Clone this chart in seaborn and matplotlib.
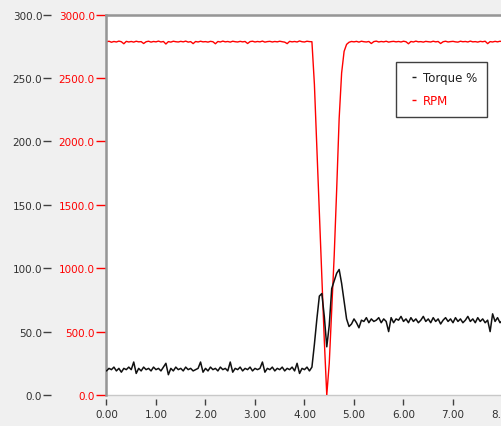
import matplotlib
matplotlib.use("Agg")
import matplotlib.pyplot as plt
from matplotlib.lines import Line2D
from matplotlib.ticker import FormatStrFormatter
import pandas as pd
import seaborn as sns

# ---- data (sampling grid every 0.05 s) ----
time = [round(0.05 * i, 2) for i in range(161)]

torque = [
    19, 21, 20, 22, 19, 21, 18, 21, 20, 22,
    20, 26, 17, 21, 19, 22, 20, 21, 19, 22,
    20, 21, 19, 22, 25, 16, 21, 19, 22, 20,
    21, 19, 22, 20, 21, 19, 20, 21, 26, 18,
    21, 19, 22, 20, 21, 19, 22, 20, 21, 19,
    26, 18, 21, 20, 22, 19, 21, 20, 22, 19,
    21, 20, 21, 26, 18, 21, 20, 22, 19, 21,
    20, 22, 19, 21, 20, 22, 19, 25, 17, 21,
    20, 22, 19, 22, 40, 60, 78, 80, 62, 38,
    55, 84, 90, 96, 99, 88, 74, 60, 54, 56,
    60, 57, 53, 59, 58, 61, 57, 60, 58, 59,
    61, 57, 60, 58, 50, 61, 57, 60, 59, 62,
    58, 60, 57, 61, 58, 60, 57, 59, 62, 58,
    60, 57, 61, 58, 60, 56, 59, 61, 58, 60,
    57, 61, 58, 60, 57, 59, 62, 58, 60, 57,
    61, 58, 60, 57, 59, 50, 64, 58, 61, 57,
    59,
]

rpm = [
    2785, 2790, 2782, 2788, 2784, 2791, 2786, 2770, 2789, 2784,
    2788, 2783, 2790, 2785, 2787, 2772, 2786, 2790, 2783, 2788,
    2785, 2791, 2784, 2788, 2768, 2787, 2783, 2790, 2786, 2784,
    2789, 2785, 2791, 2783, 2787, 2771, 2788, 2784, 2790, 2785,
    2787, 2783, 2789, 2786, 2770, 2788, 2784, 2791, 2785, 2788,
    2783, 2790, 2786, 2784, 2789, 2785, 2788, 2772, 2787, 2790,
    2784, 2788, 2785, 2791, 2783, 2787, 2789, 2784, 2788, 2785,
    2790, 2786, 2783, 2771, 2789, 2785, 2788, 2784, 2792, 2786,
    2784, 2790, 2787, 2786, 2450, 1940, 1420, 900, 430, 0,
    250, 680, 1100, 1620, 2180, 2540, 2710, 2765, 2782, 2788,
    2785, 2789, 2783, 2790, 2786, 2784, 2788, 2772, 2787, 2791,
    2784, 2788, 2785, 2790, 2783, 2787, 2789, 2785, 2788, 2784,
    2790, 2786, 2770, 2788, 2784, 2791, 2785, 2787, 2783, 2789,
    2786, 2784, 2790, 2785, 2788, 2772, 2786, 2790, 2784, 2787,
    2789, 2785, 2783, 2790, 2786, 2788, 2784, 2791, 2785, 2787,
    2783, 2789, 2786, 2790, 2771, 2787, 2784, 2789, 2785, 2790,
    2786,
]

series_labels = ["Torque %", "RPM"]
x_ticks = [0, 1, 2, 3, 4, 5, 6, 7, 8]
rpm_ticks = [0, 500, 1000, 1500, 2000, 2500, 3000]
torque_ticks = [0, 50, 100, 150, 200, 250, 300]

df = pd.DataFrame({"time": time, "torque": torque, "rpm": rpm})

# ---- style ----
sns.set_theme(style="white")
plt.rcParams["font.family"] = ["DejaVu Sans"]

W, H = 502, 427
fig = plt.figure(figsize=(W / 100, H / 100), dpi=100, facecolor="#f0f0f0")
left_px, top_px, right_px, bottom_px = 106.5, 15.6, 502.5, 396.0
ax = fig.add_axes([left_px / W, (H - bottom_px) / H,
                   (right_px - left_px) / W, (bottom_px - top_px) / H])
ax.set_facecolor("white")

RED = "#ff0000"
DARK = "#303030"
FRAME = "#969696"

# RPM on the main axes
sns.lineplot(data=df, x="time", y="rpm", ax=ax, color=RED, linewidth=1.0,
             legend=False, zorder=2)
ax.set_xlim(0, 8)
ax.set_ylim(0, 3000)
ax.set_xlabel("")
ax.set_ylabel("")

# Torque on twin axes
ax2 = ax.twinx()
sns.lineplot(data=df, x="time", y="torque", ax=ax2, color="#101010",
             linewidth=1.1, legend=False, zorder=3)
ax2.set_ylim(0, 300)
ax2.set_xlim(0, 8)
ax2.set_xlabel("")
ax2.set_ylabel("")

# ---- axes decoration ----
for s in ["right", "bottom"]:
    ax.spines[s].set_visible(False)
for s in ["left", "top"]:
    ax.spines[s].set_color(FRAME)
    ax.spines[s].set_linewidth(1.8)
ax.spines["bottom"].set_position(("outward", 3))
ax.patch.set_edgecolor("#c8c8c8")
ax.patch.set_linewidth(1)

ax.set_xticks(x_ticks)
ax.xaxis.set_major_formatter(FormatStrFormatter("%.2f"))
ax.tick_params(axis="x", bottom=True, direction="out", length=4, width=1,
               color="#404040", labelcolor=DARK, labelsize=7.5, pad=3)

ax.set_yticks(rpm_ticks)
ax.yaxis.set_major_formatter(FormatStrFormatter("%.1f"))
ax.tick_params(axis="y", left=True, right=False, direction="out", length=7,
               width=1, color=RED, labelcolor=RED, labelsize=7.5, pad=1.5)

for s in ["right", "top", "bottom"]:
    ax2.spines[s].set_visible(False)
ax2.yaxis.tick_left()
ax2.spines["left"].set_position(("outward", 40))
ax2.spines["left"].set_visible(False)
ax2.set_yticks(torque_ticks)
ax2.yaxis.set_major_formatter(FormatStrFormatter("%.1f"))
ax2.tick_params(axis="y", left=True, right=False, direction="out", length=5.5,
                width=1, color="#404040", labelcolor=DARK, labelsize=7.5, pad=0.8)

# ---- legend ----
handles = [
    Line2D([], [], linestyle="none", marker="_", markersize=3,
           markeredgewidth=1, color="#202020"),
    Line2D([], [], linestyle="none", marker="_", markersize=3,
           markeredgewidth=1, color=RED),
]
leg = ax2.legend(handles, series_labels, loc="upper left",
                 bbox_to_anchor=(0.731, 0.876), borderaxespad=0,
                 frameon=True, fancybox=False, shadow=False, framealpha=1,
                 fontsize=8.5, borderpad=0.8, handlelength=1.5,
                 handletextpad=0.0, labelspacing=0.86,
                 labelcolor=["#202020", RED])
leg.get_frame().set_edgecolor("#404040")
leg.get_frame().set_linewidth(1)

fig.savefig("out.png", dpi=100, facecolor=fig.get_facecolor())
